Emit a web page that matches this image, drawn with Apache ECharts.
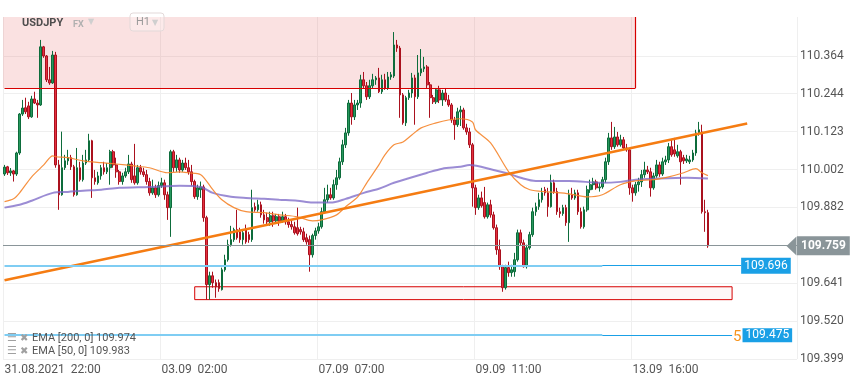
<!DOCTYPE html>
<html><head><meta charset="utf-8">
<script src="https://cdn.jsdelivr.net/npm/echarts@6/dist/echarts.min.js"></script>
<style>html,body{margin:0;padding:0;background:#fff}#c{width:859px;height:385px}</style>
</head><body><div id="c"></div>
<script>
// ---------- DATA ----------
const symbolName = 'USDJPY';
const xTickIndex = [0, 52, 104, 156, 208];
const xTickLabels = ['31.08.2021  22:00', '03.09  02:00', '07.09  07:00', '09.09  11:00', '13.09  16:00'];
const slotCount = 263;
const yGridValues = [109.399, 109.520, 109.641, 109.761, 109.882, 110.002, 110.123, 110.244, 110.364];
const yLabelValues = [109.399, 109.520, 109.641, 109.882, 110.002, 110.123, 110.244, 110.364];
const yMin = 109.399, yMax = 110.488;

const opens = [
109.988,110.011,109.992,109.998,109.988,110.055,110.179,110.199,110.205,110.170,
110.227,110.214,110.208,110.393,110.364,110.288,110.278,110.367,110.017,109.922,
110.008,110.030,110.040,110.011,109.922,110.008,109.970,110.023,110.033,110.094,
109.976,109.960,109.982,110.008,109.995,110.008,110.059,110.017,109.995,109.964,
109.982,109.995,110.020,109.982,109.960,110.008,109.995,109.986,109.964,109.928,
109.944,109.922,109.951,109.960,109.922,109.881,110.059,110.008,110.033,110.001,
110.023,110.008,109.995,109.964,109.916,109.938,109.947,109.849,109.636,109.664,
109.642,109.642,109.620,109.683,109.715,109.763,109.779,109.811,109.804,109.779,
109.811,109.795,109.779,109.884,109.874,109.890,109.858,109.849,109.836,109.855,
109.839,109.852,109.839,109.852,109.836,109.827,109.820,109.817,109.811,109.804,
109.785,109.779,109.731,109.792,109.807,109.820,109.868,109.906,109.922,109.912,
109.954,109.976,110.027,110.081,110.119,110.214,110.170,110.208,110.214,110.288,
110.269,110.234,110.269,110.288,110.294,110.250,110.288,110.262,110.297,110.300,
110.399,110.389,110.240,110.151,110.231,110.246,110.294,110.234,110.310,110.323,
110.329,110.272,110.231,110.218,110.256,110.224,110.246,110.224,110.208,110.160,
110.145,110.186,110.192,110.135,110.122,110.081,109.944,109.881,109.912,109.897,
109.852,109.890,109.858,109.817,109.747,109.693,109.626,109.690,109.674,109.677,
109.715,109.801,109.769,109.693,109.753,109.795,109.868,109.884,109.906,109.938,
109.928,109.884,109.960,109.932,109.868,109.862,109.881,109.833,109.922,109.912,
109.928,109.868,109.820,109.874,109.938,109.954,109.963,109.944,109.947,109.970,
110.027,110.103,110.075,110.106,110.081,110.097,110.071,110.065,109.944,109.928,
109.954,109.963,109.986,110.001,109.995,109.944,109.982,110.017,109.988,110.027,
110.033,110.075,110.065,110.046,110.059,110.040,110.030,110.027,110.033,110.055,
110.119,110.122,109.868,109.865];
const closes = [
110.010,109.992,109.998,109.988,110.055,110.179,110.198,110.186,110.170,110.227,
110.214,110.208,110.393,110.364,110.288,110.278,110.367,110.017,109.922,110.008,
110.030,110.040,110.011,109.922,110.008,109.970,110.023,110.033,110.094,109.976,
109.964,109.982,110.008,109.995,110.008,110.059,110.017,109.995,109.964,109.982,
109.995,110.020,109.970,109.960,110.008,109.995,109.986,109.964,109.928,109.944,
109.922,109.951,109.960,109.922,109.881,110.059,110.008,110.033,110.001,110.023,
110.008,109.995,109.964,109.916,109.944,109.947,109.849,109.636,109.664,109.642,
109.629,109.623,109.683,109.715,109.763,109.779,109.811,109.785,109.779,109.801,
109.772,109.779,109.881,109.874,109.890,109.858,109.842,109.836,109.855,109.839,
109.852,109.839,109.852,109.836,109.827,109.820,109.801,109.798,109.804,109.779,
109.772,109.731,109.792,109.807,109.820,109.868,109.906,109.922,109.912,109.954,
109.976,110.027,110.081,110.119,110.214,110.170,110.208,110.214,110.288,110.269,
110.234,110.269,110.288,110.294,110.250,110.288,110.262,110.297,110.304,110.399,
110.389,110.240,110.151,110.231,110.246,110.294,110.234,110.310,110.323,110.329,
110.272,110.231,110.218,110.256,110.224,110.246,110.224,110.208,110.160,110.145,
110.186,110.192,110.135,110.122,110.081,109.944,109.881,109.912,109.887,109.852,
109.890,109.858,109.817,109.747,109.693,109.626,109.690,109.674,109.683,109.715,
109.801,109.769,109.693,109.753,109.795,109.868,109.884,109.906,109.928,109.928,
109.884,109.960,109.932,109.868,109.862,109.881,109.833,109.922,109.912,109.928,
109.868,109.820,109.874,109.938,109.954,109.963,109.944,109.947,109.970,110.027,
110.103,110.075,110.106,110.081,110.097,110.071,110.065,109.944,109.928,109.954,
109.963,109.986,110.001,109.995,109.944,109.982,110.017,109.988,110.027,110.033,
110.075,110.049,110.052,110.059,110.027,110.030,110.036,110.033,110.055,110.119,
110.129,109.868,109.865,109.759];
const lows = [
109.982,109.985,109.982,109.964,109.982,110.049,110.173,110.179,110.163,110.167,
110.211,110.167,110.205,110.358,110.281,110.272,110.275,110.008,109.874,109.919,
110.001,110.017,110.001,109.916,109.919,109.964,109.964,110.017,110.027,109.912,
109.954,109.954,109.970,109.986,109.988,109.954,110.008,109.976,109.954,109.954,
109.976,109.988,109.960,109.954,109.954,109.986,109.979,109.954,109.919,109.922,
109.912,109.916,109.944,109.906,109.842,109.788,109.995,109.995,109.992,109.995,
110.001,109.986,109.951,109.909,109.906,109.912,109.836,109.588,109.588,109.626,
109.594,109.613,109.617,109.677,109.709,109.757,109.772,109.779,109.769,109.763,
109.766,109.769,109.772,109.868,109.868,109.849,109.830,109.827,109.823,109.820,
109.830,109.823,109.833,109.827,109.817,109.811,109.795,109.792,109.795,109.772,
109.763,109.677,109.722,109.779,109.798,109.814,109.862,109.897,109.906,109.906,
109.938,109.970,110.017,110.071,110.110,110.145,110.160,110.192,110.199,110.262,
110.224,110.227,110.262,110.272,110.246,110.243,110.256,110.256,110.288,110.294,
110.377,110.167,110.145,110.141,110.224,110.231,110.145,110.227,110.300,110.313,
110.262,110.167,110.211,110.211,110.214,110.205,110.218,110.202,110.151,110.097,
110.138,110.141,110.129,110.113,110.071,109.884,109.858,109.874,109.881,109.846,
109.846,109.849,109.811,109.731,109.683,109.613,109.620,109.661,109.661,109.661,
109.709,109.760,109.690,109.687,109.747,109.788,109.855,109.874,109.897,109.919,
109.852,109.881,109.925,109.858,109.849,109.855,109.823,109.772,109.906,109.906,
109.858,109.814,109.814,109.868,109.928,109.938,109.938,109.932,109.941,109.960,
110.017,110.065,110.068,110.075,110.075,110.065,110.059,109.922,109.900,109.919,
109.932,109.947,109.976,109.988,109.916,109.938,109.976,109.979,109.982,110.017,
110.023,110.043,110.043,110.040,109.954,110.020,110.023,110.020,110.027,110.046,
110.110,109.862,109.804,109.753];
const highs = [
110.017,110.014,110.007,110.001,110.059,110.182,110.224,110.231,110.218,110.237,
110.250,110.224,110.415,110.396,110.367,110.329,110.380,110.377,110.033,110.123,
110.049,110.065,110.049,110.017,110.071,110.027,110.049,110.065,110.116,110.097,
110.001,109.995,110.017,110.027,110.023,110.065,110.065,110.040,110.001,109.992,
110.008,110.049,110.027,110.084,110.017,110.017,110.008,110.001,109.976,109.970,
109.954,109.964,109.976,109.970,109.932,110.065,110.065,110.049,110.040,110.033,
110.040,110.033,110.017,109.970,109.954,109.964,109.954,109.855,109.677,109.677,
109.652,109.652,109.690,109.731,109.779,109.823,109.817,109.874,109.817,109.811,
109.827,109.804,109.938,109.897,109.906,109.900,109.874,109.865,109.868,109.868,
109.861,109.861,109.868,109.861,109.849,109.842,109.836,109.881,109.820,109.817,
109.798,109.792,109.798,109.817,109.833,109.881,109.944,109.954,109.944,109.970,
110.001,110.040,110.097,110.135,110.224,110.246,110.224,110.224,110.304,110.313,
110.281,110.288,110.307,110.300,110.326,110.304,110.307,110.313,110.313,110.440,
110.415,110.396,110.246,110.237,110.256,110.310,110.304,110.367,110.386,110.361,
110.335,110.281,110.240,110.262,110.269,110.256,110.262,110.240,110.214,110.170,
110.199,110.205,110.199,110.148,110.135,110.087,109.954,109.922,109.932,109.947,
109.897,109.906,109.868,109.827,109.779,109.699,109.699,109.709,109.699,109.737,
109.811,109.811,109.779,109.763,109.804,109.881,109.897,109.928,109.944,109.947,
109.944,109.986,109.970,109.944,109.881,109.890,109.890,109.938,109.944,109.938,
109.938,109.881,109.884,109.951,109.970,109.976,109.970,109.960,109.979,110.040,
110.119,110.154,110.138,110.122,110.113,110.106,110.084,110.071,109.954,109.963,
109.976,110.001,110.027,110.014,110.008,109.992,110.033,110.027,110.040,110.046,
110.087,110.097,110.103,110.081,110.065,110.049,110.049,110.046,110.065,110.129,
110.154,110.145,109.906,109.874];

// EMA readings (slot index, value)
const ema200Idx = [0,5,9,16,21,26,32,38,48,58,65,69,75,80,86,91,97,102,108,113,119,124,129,140,145,151,154,162,167,171,176,187,198,204,209,215,226,233];
const ema200Val = [109.881,109.890,109.903,109.928,109.931,109.935,109.938,109.944,109.947,109.951,109.947,109.928,109.916,109.912,109.909,109.906,109.903,109.897,109.897,109.909,109.928,109.941,109.960,109.992,110.005,110.011,110.017,110.001,109.989,109.976,109.966,109.966,109.960,109.963,109.970,109.973,109.976,109.974];
const ema50Idx = [0,3,5,9,13,16,17,21,26,32,37,43,48,54,58,61,65,69,72,76,80,86,91,97,102,105,110,113,117,120,124,126,129,132,135,138,143,147,151,155,156,161,167,171,174,180,187,193,198,204,209,215,220,225,229,231,233];
const ema50Val = [109.900,109.909,109.928,109.979,110.017,110.046,110.043,110.040,110.030,110.024,110.020,110.014,110.008,109.992,109.995,109.992,109.986,109.938,109.906,109.881,109.868,109.865,109.858,109.852,109.839,109.842,109.858,109.884,109.915,109.960,110.017,110.049,110.081,110.090,110.113,110.135,110.151,110.160,110.164,110.154,110.129,110.087,109.995,109.954,109.938,109.931,109.925,109.915,109.922,109.954,109.966,109.970,109.979,109.992,110.005,109.992,109.983];
const emaLegend = ['EMA [200, 0] 109.974', 'EMA [50, 0] 109.983'];

// Drawing objects
const trendIdx = [0, 246];
const trendVal = [109.650, 110.149];
const lastPrice = 109.759;
const level1 = 109.696, level1EndIdx = 244;
const level2 = 109.475, level2EndIdx = 241;
const level2Tag = '5';
const lightEndIdx = 198;
const topZoneLow = 110.262, topZoneEndIdx = 209;
const bottomZone = {from: 63, to: 241, low: 109.588, high: 109.629};

[closes, lows, highs].forEach(a => { if (a.length !== opens.length) throw new Error('length mismatch ' + a.length + ' vs ' + opens.length); });

// ---------- CHART ----------
const cats = Array.from({length: slotCount}, (_, i) => String(i));
const candleData = opens.map((o, i) => [o, closes[i], lows[i], highs[i]]);
const ema200 = ema200Idx.map((x, i) => [x, ema200Val[i]]);
const ema50 = ema50Idx.map((x, i) => [x, ema50Val[i]]);
const trend = trendIdx.map((x, i) => [x, trendVal[i]]);
const isTick = (i) => xTickIndex.indexOf(i) >= 0;

const RED = '#d60000';
const BLUE = '#1aa0e6';
const LIGHTBLUE = '#7fcdf3';
const GRAY = '#8a9599';

const blueLine = {color: BLUE, width: 1.2, type: 'solid'};
const lightLine = {color: LIGHTBLUE, width: 2, type: 'solid'};
const blueBox = {backgroundColor: BLUE, color: '#fff', fontSize: 12, fontFamily: 'Roboto', lineHeight: 14, padding: [1, 3, 1, 3]};

const chart = echarts.init(document.getElementById('c'), null, {renderer: 'canvas'});
chart.setOption({
  animation: false,
  textStyle: {fontFamily: 'Roboto'},
  grid: {left: 3, right: 62, top: 17, bottom: 26},
  xAxis: {
    type: 'category', data: cats, boundaryGap: true,
    axisLine: {show: false}, axisTick: {show: false},
    axisLabel: {
      interval: (i) => isTick(i),
      formatter: (v, i) => xTickLabels[xTickIndex.indexOf(i)] || '',
      align: 'left', color: '#555', fontSize: 12, margin: 5, fontFamily: 'Roboto'
    },
    splitLine: {show: true, interval: (i) => isTick(i), lineStyle: {color: '#efefef', width: 1}}
  },
  yAxis: {
    type: 'value', position: 'right', min: yMin, max: yMax,
    axisLine: {show: false},
    axisTick: {show: false, customValues: yGridValues},
    axisLabel: {customValues: yLabelValues, formatter: (v) => v.toFixed(3), color: '#555', fontSize: 12, margin: 3, fontFamily: 'Roboto'},
    splitLine: {show: true, lineStyle: {color: '#efefef', width: 1}}
  },
  series: [
    { // zones
      type: 'line', data: [], z: 1, silent: true,
      markArea: {
        silent: true, label: {show: false},
        data: [
          [{yAxis: topZoneLow, itemStyle: {color: 'rgba(230,95,95,0.19)', borderWidth: 0}}, {xAxis: topZoneEndIdx}],
          [{coord: [bottomZone.from, bottomZone.high], itemStyle: {color: 'rgba(230,95,95,0.05)', borderColor: RED, borderWidth: 1}},
           {coord: [bottomZone.to, bottomZone.low]}]
        ]
      },
      markLine: {
        silent: true, symbol: ['none', 'none'], label: {show: false},
        lineStyle: {color: RED, width: 1.2, type: 'solid'},
        data: [
          [{coord: [0, topZoneLow]}, {coord: [topZoneEndIdx, topZoneLow]}],
          [{coord: [topZoneEndIdx, topZoneLow]}, {coord: [topZoneEndIdx, yMax]}]
        ]
      }
    },
    {
      type: 'candlestick', data: candleData, z: 2, barWidth: '72%',
      itemStyle: {color: '#27985e', color0: '#e5303f', borderColor: '#0d6c3b', borderColor0: '#aa111e', borderWidth: 1}
    },
    {
      type: 'line', data: ema200, z: 3, symbol: 'none', smooth: 0.3, silent: true,
      lineStyle: {color: '#7a66c6', width: 2, opacity: 0.75}
    },
    {
      type: 'line', data: ema50, z: 3, symbol: 'none', smooth: 0.3, silent: true,
      lineStyle: {color: '#f5842a', width: 1.2, opacity: 0.9}
    },
    {
      type: 'line', data: trend, z: 4, symbol: 'none', silent: true,
      lineStyle: {color: '#f57c12', width: 2.5}
    },
    { // levels
      type: 'line', data: [], z: 5, silent: true, color: BLUE,
      markLine: {
        silent: true, symbol: ['none', 'none'],
        lineStyle: blueLine,
        label: {show: false},
        data: [
          {yAxis: lastPrice, lineStyle: {color: GRAY, width: 1, type: 'solid'},
           label: {show: true, position: 'end', distance: 0, formatter: lastPrice.toFixed(3),
                   backgroundColor: GRAY, color: '#fff', fontWeight: 'bold', fontSize: 12, fontFamily: 'Roboto',
                   lineHeight: 14, padding: [3, 4, 2, 4]}},
          [{coord: [0, level1], lineStyle: lightLine}, {coord: [lightEndIdx, level1], lineStyle: lightLine}],
          [{coord: [lightEndIdx, level1], lineStyle: blueLine,
            label: Object.assign({show: true, position: 'end', distance: 0, formatter: level1.toFixed(3)}, blueBox)},
           {coord: [level1EndIdx, level1], lineStyle: blueLine}],
          [{coord: [0, level2], lineStyle: lightLine}, {coord: [lightEndIdx, level2], lineStyle: lightLine}],
          [{coord: [lightEndIdx, level2], lineStyle: blueLine,
            label: {show: true, position: 'end', distance: 0,
                    formatter: '{o|' + level2Tag + '}{b|' + level2.toFixed(3) + '}',
                    rich: {
                      o: {color: '#f7941d', fontSize: 15, fontFamily: 'Roboto', padding: [4, 1, 0, 1]},
                      b: blueBox
                    }}},
           {coord: [level2EndIdx, level2], lineStyle: blueLine}]
        ]
      },
      markPoint: {
        silent: true,
        data: [{coord: [slotCount - 1, lastPrice], symbol: 'triangle', symbolRotate: 90, symbolSize: [19, 10],
                symbolOffset: [-4, 0], itemStyle: {color: GRAY}, label: {show: false}}]
      }
    }
  ],
  graphic: [
    {type: 'text', left: 22, top: 18, z: 10, style: {text: symbolName, fill: '#4d4d4d', font: 'bold 11px Roboto'}},
    {type: 'text', left: 73, top: 20, z: 10, style: {text: 'FX', fill: '#b0b0b0', font: 'bold 9px Roboto'}},
    {type: 'text', left: 88, top: 18, z: 10, style: {text: '▼', fill: '#cfcfcf', font: '8px "DejaVu Sans"'}},
    {type: 'rect', z: 10, shape: {x: 130, y: 13, width: 34, height: 18, r: 3}, style: {fill: 'rgba(255,255,255,0.3)', stroke: '#e3d9d9', lineWidth: 1}},
    {type: 'text', left: 136, top: 17, z: 10, style: {text: 'H1', fill: '#9a9a9a', font: '11px Roboto'}},
    {type: 'text', left: 152, top: 19, z: 10, style: {text: '▼', fill: '#cfcfcf', font: '8px "DejaVu Sans"'}},
    {type: 'text', left: 7, top: 333, z: 10, style: {text: '☰', fill: '#a0a0a0', font: '11px "DejaVu Sans"'}},
    {type: 'text', left: 20, top: 333, z: 10, style: {text: '✖', fill: '#a0a0a0', font: '10px "DejaVu Sans"'}},
    {type: 'text', left: 32, top: 333, z: 10, style: {text: emaLegend[0], fill: '#555', font: '11px Roboto'}},
    {type: 'text', left: 7, top: 346, z: 10, style: {text: '☰', fill: '#a0a0a0', font: '11px "DejaVu Sans"'}},
    {type: 'text', left: 20, top: 346, z: 10, style: {text: '✖', fill: '#a0a0a0', font: '10px "DejaVu Sans"'}},
    {type: 'text', left: 32, top: 346, z: 10, style: {text: emaLegend[1], fill: '#555', font: '11px Roboto'}}
  ]
});
</script>
</body></html>
